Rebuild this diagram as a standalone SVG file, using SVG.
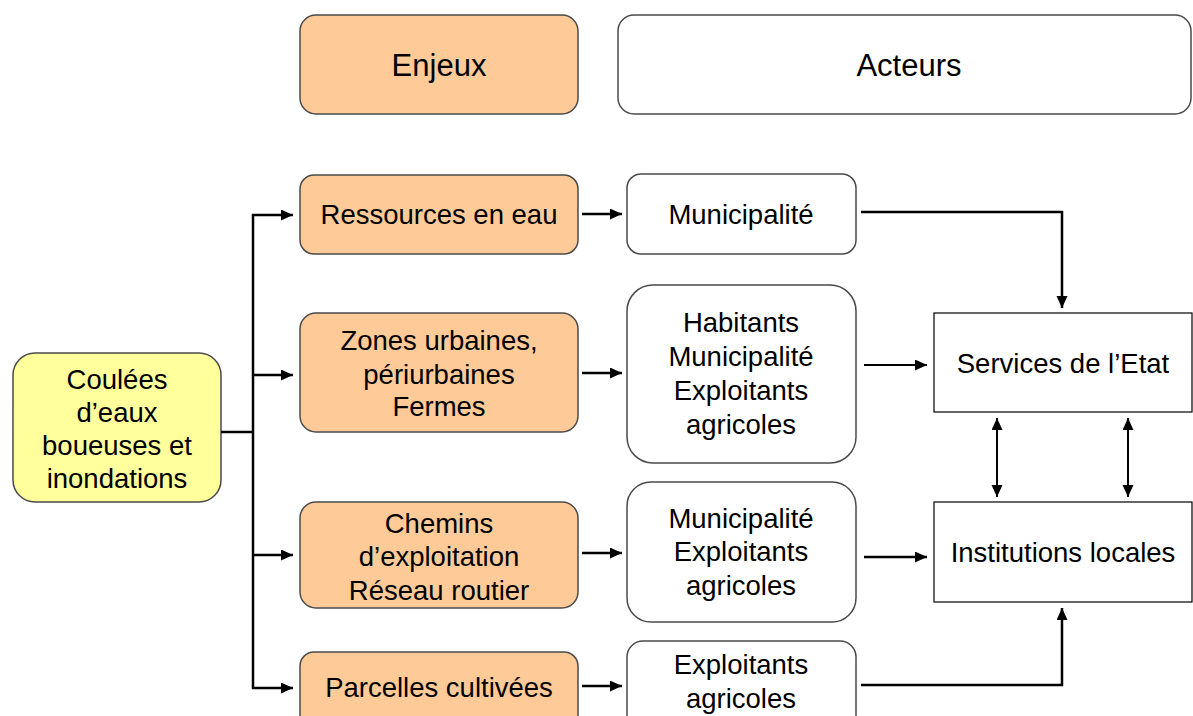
<svg xmlns="http://www.w3.org/2000/svg" width="1193" height="716" viewBox="0 0 1193 716">
<defs>
<marker id="ah" markerUnits="userSpaceOnUse" markerWidth="13" markerHeight="12" refX="12" refY="5.5" orient="auto">
<path d="M0,0 L12,5.5 L0,11 z" fill="#000"/>
</marker>
<style>
.t{font-family:"Liberation Sans",Arial,sans-serif;font-size:27.5px;fill:#000;text-anchor:middle}
.h{font-size:31px}
.or{fill:#FECB98;stroke:#4a4a4a;stroke-width:1.5}
.ye{fill:#FFFF9C;stroke:#4a4a4a;stroke-width:1.5}
.wh{fill:#fff;stroke:#4a4a4a;stroke-width:1.5}
.sq{fill:#fff;stroke:#000;stroke-width:1.2}
.c{fill:none;stroke:#000;stroke-width:2.5;marker-end:url(#ah)}
.l{fill:none;stroke:#000;stroke-width:2.5}
</style>
</defs>
<rect width="1193" height="716" fill="#fff"/>
<g id="enjeux-head"><rect class="or" x="300" y="15" width="278" height="99" rx="16"/><text class="t h" x="439" y="76">Enjeux</text></g>
<g id="acteurs-head"><rect class="wh" x="618" y="15" width="573" height="99" rx="16"/><text class="t h" x="909" y="76">Acteurs</text></g>
<g id="coulees"><rect class="ye" x="13" y="353" width="208" height="149" rx="22"/>
<text class="t" x="117" y="389">Coulées</text><text class="t" x="117" y="422">d’eaux</text><text class="t" x="117" y="455">boueuses et</text><text class="t" x="117" y="488">inondations</text></g>
<g id="ressources"><rect class="or" x="300" y="175" width="278" height="79" rx="14"/><text class="t" x="439" y="224">Ressources en eau</text></g>
<g id="zones"><rect class="or" x="300" y="313" width="278" height="119" rx="16"/>
<text class="t" x="439" y="350">Zones urbaines,</text><text class="t" x="439" y="384">périurbaines</text><text class="t" x="439" y="416">Fermes</text></g>
<g id="chemins"><rect class="or" x="300" y="502" width="278" height="106" rx="16"/>
<text class="t" x="439" y="533">Chemins</text><text class="t" x="439" y="566">d’exploitation</text><text class="t" x="439" y="600">Réseau routier</text></g>
<g id="parcelles"><rect class="or" x="300" y="652" width="278" height="80" rx="14"/><text class="t" x="439" y="697">Parcelles cultivées</text></g>
<g id="a-municipalite"><rect class="wh" x="627" y="174" width="229" height="80" rx="14"/><text class="t" x="741" y="224">Municipalité</text></g>
<g id="a-habitants"><rect class="wh" x="627" y="285" width="229" height="178" rx="26"/>
<text class="t" x="741" y="332">Habitants</text><text class="t" x="741" y="366">Municipalité</text><text class="t" x="741" y="400">Exploitants</text><text class="t" x="741" y="434">agricoles</text></g>
<g id="a-munexp"><rect class="wh" x="627" y="482" width="229" height="140" rx="24"/>
<text class="t" x="741" y="528">Municipalité</text><text class="t" x="741" y="561">Exploitants</text><text class="t" x="741" y="595">agricoles</text></g>
<g id="a-exploitants"><rect class="wh" x="627" y="641" width="229" height="90" rx="16"/>
<text class="t" x="741" y="674">Exploitants</text><text class="t" x="741" y="708">agricoles</text></g>
<g id="services"><rect class="sq" x="934" y="313" width="258" height="99"/><text class="t" x="1063" y="373">Services de l’Etat</text></g>
<g id="institutions"><rect class="sq" x="934" y="502" width="258" height="100"/><text class="t" x="1063" y="562">Institutions locales</text></g>
<g id="connectors">
<path class="l" d="M221,432 H253"/>
<path class="l" d="M253,214 V689"/>
<path class="c" d="M252,215 H293"/>
<path class="c" d="M253,375 H293"/>
<path class="c" d="M253,555 H293"/>
<path class="c" d="M252,688 H293"/>
<path class="c" d="M582,214 H622"/>
<path class="c" d="M582,373 H622"/>
<path class="c" d="M582,553 H622"/>
<path class="c" d="M582,686 H622"/>
<path class="c" d="M861,212 H1062 V308"/>
<path class="c" style="stroke-width:2" d="M864,365 H927"/>
<path class="c" d="M864,557 H927"/>
<path class="c" d="M861,685 H1062 V608"/>
<path class="c" style="stroke-width:2" d="M997,440 V418"/>
<path class="c" style="stroke-width:2" d="M997,470 V497"/>
<path class="l" style="stroke-width:2" d="M997,425 V490"/>
<path class="c" style="stroke-width:2" d="M1128,440 V418"/>
<path class="c" style="stroke-width:2" d="M1128,470 V497"/>
<path class="l" style="stroke-width:2" d="M1128,425 V490"/>
</g>
</svg>
